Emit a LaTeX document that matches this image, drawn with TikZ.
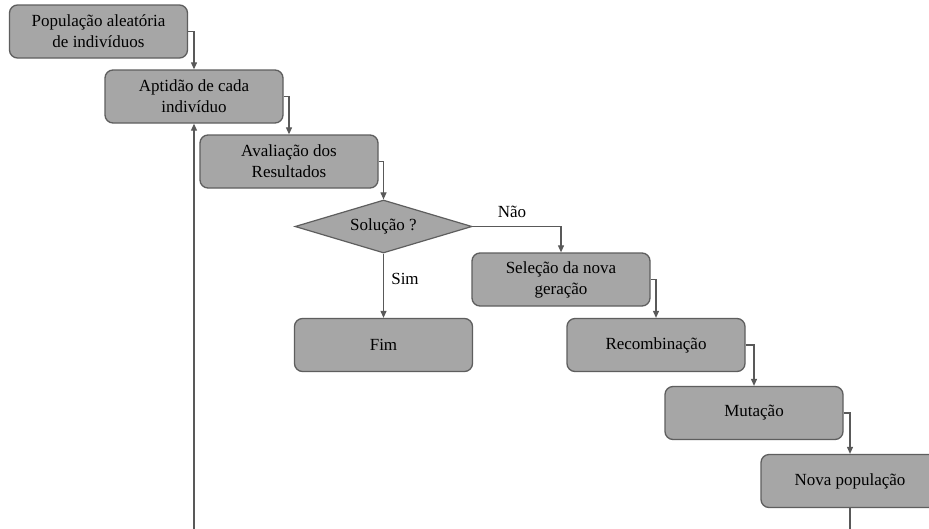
\documentclass[tikz,border=0pt]{standalone}
\usepackage{fontspec}
\setmainfont{Liberation Serif}
\usetikzlibrary{arrows.meta,positioning,shapes.geometric}
\definecolor{boxfill}{HTML}{A6A6A6}
\definecolor{boxline}{HTML}{5E5E5E}
\definecolor{arrline}{HTML}{595959}
\tikzset{
  blk/.style={draw=boxline,fill=boxfill,rectangle,rounded corners=8pt,line width=1.3pt,
    minimum width=178pt,minimum height=53pt,align=center,inner sep=2pt,
    font=\fontsize{17}{21}\selectfont},
  decblk/.style={draw=boxline,fill=boxfill,diamond,aspect=3.34,line width=1.2pt,
    minimum width=177pt,minimum height=53pt,inner sep=0pt,
    font=\fontsize{17}{21}\selectfont},
  arr/.style={-{Triangle[length=7pt,width=6pt]},draw=arrline,line width=1.1pt},
  lbl/.style={font=\fontsize{17}{21}\selectfont}
}
\begin{document}
\begin{tikzpicture}[x=1pt,y=-1pt]
  \clip (0,0) rectangle (929,528);
  \fill[white] (0,0) rectangle (929,528);

  \node[blk] (pop) at (98.5,31.5) {População aleatória\\de indivíduos};
  \node[blk] (apt) at (194,96.5) {Aptidão de cada\\indivíduo};
  \node[blk] (aval) at (289,161.5) {Avaliação dos\\Resultados};
  \node[decblk] (sol) at (383.5,226.5) {Solução ?};
  \node[blk] (fim) at (383.5,345) {Fim};
  \node[blk] (sel) at (561,279.5) {Seleção da nova\\geração};
  \node[blk] (recomb) at (656,345) {Recombinação};
  \node[blk] (mut) at (754,413) {Mutação};
  \node[blk] (nova) at (850,481) {Nova população};

  \node[lbl] (nao) at (512,212) {Não};
  \node[lbl] (sim) at (405,279) {Sim};

  \draw[arr] (pop.east) -| (apt.north);
  \draw[arr] (apt.east) -| (aval.north);
  \draw[arr] (aval.east) -| (sol.north);
  \draw[arr] (sol.east) -| (sel.north);
  \draw[arr] (sol.south) -- (fim.north);
  \draw[arr] (sel.east) -| (recomb.north);
  \draw[arr] (recomb.east) -| (mut.north);
  \draw[arr] (mut.east) -| (nova.north);
  \draw[arr] (nova.south) -- ++(0,40) -| (apt.south);
\end{tikzpicture}
\end{document}
